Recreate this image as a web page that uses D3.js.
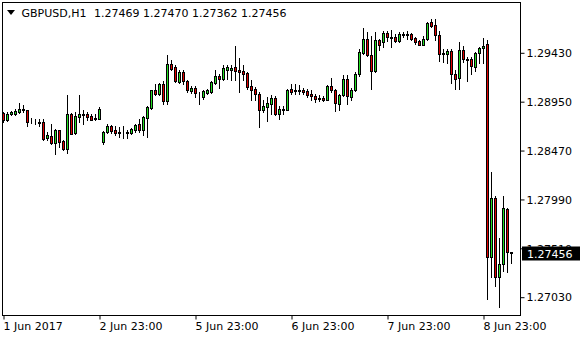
<!DOCTYPE html>
<html><head><meta charset="utf-8">
<script src="https://cdn.jsdelivr.net/npm/d3@7"></script>
<style>
body{margin:0;background:#fff}
svg{display:block}
text{font-family:"DejaVu Sans",sans-serif;font-size:11px}
</style>
</head><body><svg id="c" width="580" height="340"></svg>
<script>
const symbol = "GBPUSD,H1";
const opens = [1.28835,1.28769,1.28828,1.28828,1.28848,1.28877,1.28861,1.28760,1.28750,1.28743,
1.28743,1.28586,1.28609,1.28543,1.28665,1.28557,1.28485,1.28828,1.28642,1.28795,
1.28812,1.28828,1.28802,1.28776,1.28779,1.28550,1.28652,1.28704,1.28668,1.28648,
1.28642,1.28639,1.28639,1.28671,1.28724,1.28671,1.28789,1.28887,1.29057,1.29024,
1.29123,1.28952,1.29319,1.29286,1.29139,1.29237,1.29149,1.29051,1.29077,1.28998,
1.28992,1.29034,1.29041,1.29132,1.29194,1.29165,1.29260,1.29260,1.29286,1.29253,
1.29243,1.29227,1.29096,1.29067,1.29024,1.28868,1.28894,1.28926,1.28985,1.28828,
1.28868,1.28868,1.29074,1.29054,1.29057,1.29064,1.29051,1.29024,1.29002,1.28982,
1.28985,1.28966,1.29100,1.29064,1.28926,1.29008,1.29172,1.28992,1.29057,1.29214,
1.29427,1.29564,1.29400,1.29247,1.29554,1.29531,1.29620,1.29570,1.29580,1.29541,
1.29613,1.29597,1.29606,1.29570,1.29541,1.29505,1.29564,1.29727,1.29695,1.29597,
1.29423,1.29410,1.29440,1.29214,1.29175,1.29450,1.29358,1.29361,1.29283,1.29420,
1.29469,1.29508,1.27419,1.27998,1.27223,1.27350,1.27890,1.27469];
const highs = [1.28845,1.28845,1.28854,1.28877,1.28933,1.28910,1.28868,1.28789,1.28779,1.28779,
1.28779,1.28648,1.28730,1.28681,1.28671,1.28566,1.29008,1.28835,1.28845,1.29015,
1.28861,1.28845,1.28828,1.28828,1.28894,1.28658,1.28724,1.28714,1.28704,1.28697,
1.28704,1.28671,1.28691,1.28730,1.28779,1.28802,1.28900,1.29064,1.29116,1.29130,
1.29149,1.29400,1.29351,1.29302,1.29253,1.29260,1.29162,1.29096,1.29096,1.29041,
1.29064,1.29074,1.29146,1.29253,1.29221,1.29302,1.29302,1.29302,1.29489,1.29378,
1.29302,1.29237,1.29155,1.29090,1.29041,1.28959,1.28992,1.29008,1.28998,1.28900,
1.28900,1.29074,1.29116,1.29116,1.29106,1.29083,1.29074,1.29057,1.29024,1.29008,
1.28998,1.29106,1.29181,1.29074,1.29024,1.29204,1.29204,1.29083,1.29237,1.29466,
1.29672,1.29629,1.29587,1.29629,1.29564,1.29639,1.29639,1.29652,1.29613,1.29629,
1.29629,1.29639,1.29620,1.29580,1.29554,1.29587,1.29727,1.29760,1.29760,1.29639,
1.29466,1.29466,1.29459,1.29253,1.29528,1.29489,1.29384,1.29384,1.29433,1.29482,
1.29574,1.29548,1.28253,1.28017,1.27605,1.28017,1.27900,1.27470];
const lows = [1.28746,1.28756,1.28812,1.28812,1.28835,1.28845,1.28704,1.28737,1.28724,1.28704,
1.28573,1.28566,1.28534,1.28436,1.28501,1.28468,1.28442,1.28625,1.28632,1.28746,
1.28724,1.28763,1.28763,1.28763,1.28772,1.28527,1.28639,1.28639,1.28616,1.28599,
1.28592,1.28592,1.28625,1.28648,1.28648,1.28616,1.28599,1.28877,1.29008,1.29008,
1.28920,1.28926,1.29253,1.29136,1.29130,1.29123,1.29041,1.29031,1.28992,1.28920,
1.28976,1.29024,1.29034,1.29123,1.29083,1.29155,1.29172,1.29162,1.29155,1.29041,
1.29155,1.29074,1.28966,1.28959,1.28697,1.28845,1.28756,1.28828,1.28812,1.28779,
1.28828,1.28861,1.29024,1.29018,1.29024,1.29018,1.28992,1.28959,1.28943,1.28952,
1.28952,1.28959,1.29041,1.28854,1.28861,1.28998,1.28920,1.28959,1.29051,1.29194,
1.29417,1.29391,1.29074,1.29237,1.29450,1.29482,1.29541,1.29482,1.29531,1.29531,
1.29580,1.29564,1.29548,1.29515,1.29499,1.29499,1.29554,1.29678,1.29554,1.29345,
1.29332,1.29322,1.29126,1.29067,1.29067,1.29332,1.29148,1.29221,1.29243,1.29322,
1.29325,1.27007,1.27223,1.27134,1.26928,1.27282,1.27272,1.27362];
const closes = [1.28769,1.28828,1.28841,1.28851,1.28874,1.28861,1.28746,1.28753,1.28743,1.28740,
1.28583,1.28616,1.28543,1.28668,1.28553,1.28485,1.28828,1.28632,1.28802,1.28822,
1.28828,1.28795,1.28769,1.28782,1.28871,1.28652,1.28704,1.28658,1.28639,1.28642,
1.28636,1.28645,1.28678,1.28720,1.28671,1.28795,1.28894,1.29057,1.29024,1.29116,
1.28952,1.29319,1.29270,1.29146,1.29237,1.29149,1.29057,1.29080,1.29031,1.29005,
1.29047,1.29057,1.29139,1.29194,1.29168,1.29279,1.29286,1.29276,1.29247,1.29240,
1.29221,1.29090,1.29064,1.29024,1.28868,1.28900,1.28933,1.28985,1.28822,1.28877,
1.28877,1.29064,1.29041,1.29060,1.29051,1.29041,1.29008,1.28998,1.28976,1.28969,
1.28966,1.29100,1.29057,1.28933,1.29015,1.29172,1.28998,1.29064,1.29221,1.29433,
1.29564,1.29400,1.29247,1.29554,1.29499,1.29620,1.29580,1.29577,1.29541,1.29613,
1.29597,1.29613,1.29564,1.29531,1.29505,1.29564,1.29721,1.29688,1.29597,1.29417,
1.29410,1.29440,1.29214,1.29165,1.29450,1.29361,1.29361,1.29293,1.29420,1.29469,
1.29489,1.27419,1.27998,1.27223,1.27350,1.27900,1.27469,1.27456];
const timeTickBars = [0, 24, 48, 72, 96, 120];
const timeTickLabels = ["1 Jun 2017", "2 Jun 23:00", "5 Jun 23:00", "6 Jun 23:00", "7 Jun 23:00", "8 Jun 23:00"];
const priceTicks = [1.27030, 1.27510, 1.27990, 1.28470, 1.28950, 1.29430];

const fmt = d3.format(".5f");
const n = opens.length;
const data = d3.range(n).map(i => ({i, o: opens[i], h: highs[i], l: lows[i], c: closes[i]}));

const svg = d3.select("#c");
const x = d3.scaleLinear().domain([0, n - 1]).range([3, 3 + 4 * (n - 1)]);
const y = d3.scaleLinear().domain([1.27030, 1.29430]).range([296.7, 52.3]);

const frameL = 2.5, frameR = 520.5, frameT = 2.5, frameB = 315.5;

// candles
const g = svg.append("g");
g.selectAll("line.wick").data(data).join("line")
  .attr("x1", d => Math.round(x(d.i)) + 0.5).attr("x2", d => Math.round(x(d.i)) + 0.5)
  .attr("y1", d => Math.round(y(d.h))).attr("y2", d => Math.round(y(d.l)) + 1)
  .attr("stroke", "#000").attr("stroke-width", 1);
g.selectAll("rect.body").data(data).join("rect")
  .attr("x", d => Math.round(x(d.i)) - 0.5)
  .attr("y", d => Math.round(y(Math.max(d.o, d.c))) + 0.5)
  .attr("width", 2)
  .attr("height", d => Math.max(0, Math.round(y(Math.min(d.o, d.c))) - Math.round(y(Math.max(d.o, d.c)))))
  .attr("fill", d => d.c >= d.o ? "#22dd22" : "#e00000")
  .attr("stroke", "#000").attr("stroke-width", 1);

// frame
svg.append("rect").attr("x", frameL).attr("y", frameT).attr("width", frameR - frameL).attr("height", frameB - frameT)
  .attr("fill", "none").attr("stroke", "#000").attr("stroke-width", 1);

// right price axis
const ya = svg.append("g").attr("transform", `translate(${frameR},0)`)
  .call(d3.axisRight(y).tickValues(priceTicks).tickSize(4).tickPadding(2).tickFormat(fmt));
ya.select(".domain").remove();
ya.selectAll("line").attr("stroke", "#000").attr("transform", "translate(0,0.5)");
ya.selectAll("text").attr("font-family", "DejaVu Sans").attr("font-size", 11).attr("fill", "#000")
  .attr("x", 6).attr("dy", "0.39em");

// bottom time axis
const xa = svg.append("g").attr("transform", `translate(0,${frameB})`)
  .call(d3.axisBottom(x).tickValues(timeTickBars).tickSize(4).tickFormat((d, k) => timeTickLabels[k]));
xa.select(".domain").remove();
xa.selectAll("line").attr("stroke", "#000").attr("transform", "translate(0.5,0)");
xa.selectAll("text").attr("font-family", "DejaVu Sans").attr("font-size", 11).attr("fill", "#000")
  .attr("text-anchor", "start").attr("x", 0).attr("y", 7).attr("dy", "0.71em");

// last price label
const last = closes[n - 1];
const ly = y(last);
svg.append("rect").attr("x", 522).attr("y", Math.round(ly) - 6.5).attr("width", 58).attr("height", 14).attr("fill", "#000");
svg.append("text").attr("x", 527).attr("y", ly).attr("dy", "0.39em").attr("fill", "#fff").text(fmt(last));

// title
svg.append("path").attr("d", "M7,10 L15,10 L11,15 Z").attr("fill", "#000");
svg.append("text").attr("x", 21.5).attr("y", 16.7).attr("fill", "#000").text(symbol);
svg.append("text").attr("x", 94).attr("y", 16.7).attr("fill", "#000")
  .text([opens[n-1], highs[n-1], lows[n-1], closes[n-1]].map(fmt).join(" "));
</script>
</body></html>
